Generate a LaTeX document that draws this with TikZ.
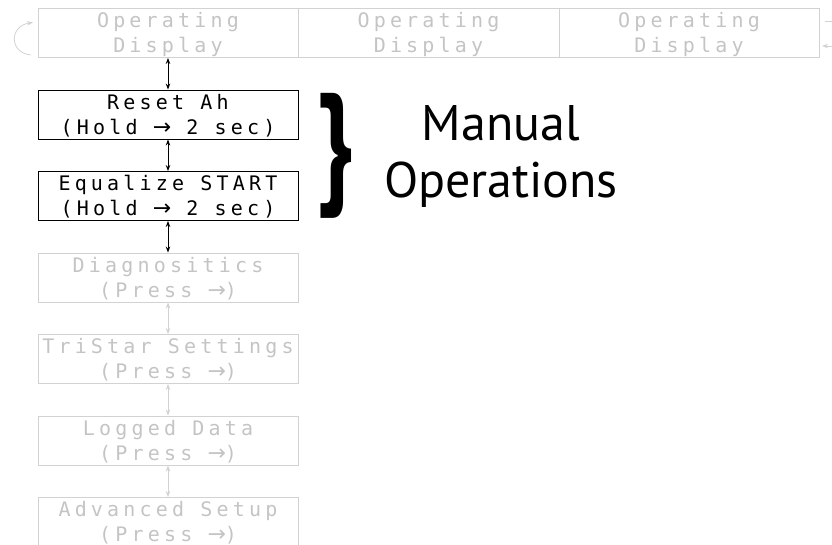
\documentclass[tikz,border=0pt]{standalone}
\usepackage{fontspec}
\usepackage{graphicx}
\usetikzlibrary{arrows.meta}
\newfontfamily\monofnt[LetterSpace=21]{DejaVu Sans Mono}
\newfontfamily\arrowfnt{DejaVu Sans}
\newfontfamily\labelfnt{PT Sans}
\definecolor{dimtext}{HTML}{C4C4C4}
\definecolor{dimline}{HTML}{D2D2D2}
\newcommand\rarr{\makebox[16.24pt][c]{\arrowfnt\fontsize{22}{25}\selectfont →}}
\newcommand\twolines[2]{\raisebox{0pt}[39.5pt][0pt]{\begin{tabular}[b]{@{}c@{}}#1\\#2\end{tabular}}}
\begin{document}
\begin{tikzpicture}[x=1pt,y=-1pt,
  >={Stealth[length=6pt,width=4.5pt]},
  menubox/.style={draw, line width=0.9pt, minimum width=260pt, minimum height=49pt,
    inner sep=0pt, font=\monofnt\fontsize{20}{25}\selectfont},
  dimbox/.style={menubox, draw=dimline, text=dimtext},
  livebox/.style={menubox, draw=black, text=black},
  livearrow/.style={<->, line width=0.9pt, black},
  dimarrow/.style={<->, line width=0.9pt, dimline}]
\useasboundingbox (0,0) rectangle (832,544);
\clip (0,0) rectangle (832,544);
% top row
\node[dimbox] (op1) at (168,33) {\twolines{Operating}{Display}};
\node[dimbox, minimum width=261pt] (op2) at (428.5,33) {\twolines{Operating}{Display}};
\node[dimbox] (op3) at (689,33) {\twolines{Operating}{Display}};
% column
\node[livebox] (reset) at (168,114.5) {\twolines{Reset Ah}{(Hold \rarr\ 2 sec)}};
\node[livebox] (equal) at (168,196) {\twolines{Equalize START}{(Hold \rarr\ 2 sec)}};
\node[dimbox] (diag) at (168,277.5) {\twolines{Diagnositics}{(Press \rarr)}};
\node[dimbox] (tri) at (168,359) {\twolines{TriStar Settings}{(Press \rarr)}};
\node[dimbox] (log) at (168,440.5) {\twolines{Logged Data}{(Press \rarr)}};
\node[dimbox] (adv) at (168,522) {\twolines{Advanced Setup}{(Press \rarr)}};
% vertical arrows
\draw[livearrow] (op1.south) -- (reset.north);
\draw[livearrow] (reset.south) -- (equal.north);
\draw[livearrow] (equal.south) -- (diag.north);
\draw[dimarrow] (diag.south) -- (tri.north);
\draw[dimarrow] (tri.south) -- (log.north);
\draw[dimarrow] (log.south) -- (adv.north);
% cycle arrows
\coordinate (cycS) at (31,55);
\coordinate (cycE) at (33,22.5);
\draw[->, line width=0.8pt, dimline] (cycS) .. controls (9,53) and (9,26) .. (cycE);
\coordinate (rOut) at (840,21);
\coordinate (rOutS) at (825,21);
\coordinate (rIn) at (840,46);
\coordinate (rInE) at (822,46);
\draw[line width=0.8pt, dimline] (rOutS) -- (rOut);
\draw[->, line width=0.8pt, dimline] (rIn) -- (rInE);
% brace and label
\node[inner sep=0pt] (brace) at (336.5,155.5) {\resizebox*{37pt}{125pt}{\labelfnt\bfseries\}}};
\node[inner sep=0pt, align=center, anchor=base, font=\labelfnt\fontsize{50}{57}\selectfont] (manual) at (501,197) {Manual\\Operations};
\end{tikzpicture}
\end{document}
